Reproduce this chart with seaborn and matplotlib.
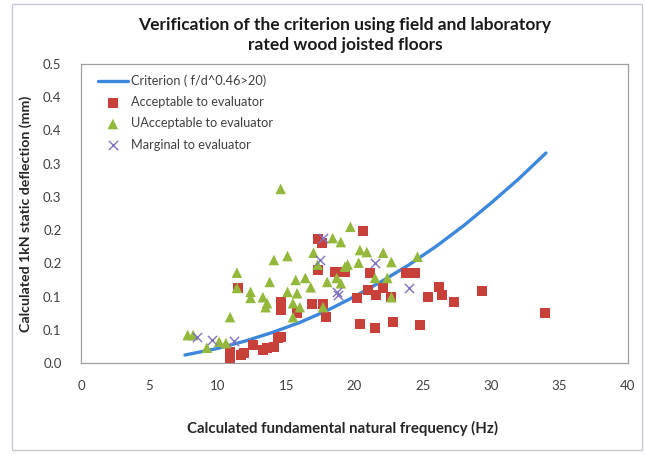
import numpy as np
import pandas as pd
import matplotlib
matplotlib.use("Agg")
import matplotlib.pyplot as plt
from matplotlib.patches import Rectangle
import seaborn as sns

# ---- data ----
crit_f = [7.6, 10, 12, 14, 16, 18, 20, 22, 24, 26, 28, 30, 32, 34]
crit_d = [0.012, 0.022, 0.033, 0.046, 0.061, 0.079, 0.100, 0.123, 0.148, 0.176, 0.207, 0.241, 0.277, 0.316]

acc_f = [11.5, 14.6, 14.6, 10.9, 10.9, 11.9, 12.6, 13.3, 14.1, 14.4, 11.7, 13.6, 15.8,
         20.6, 17.3, 17.6, 17.3, 18.6, 19.3, 21.1, 23.8, 24.4, 21.0, 21.6, 22.1, 22.7,
         20.2, 25.4, 26.2, 26.4, 27.3, 29.3, 33.9, 16.9, 17.7, 17.9, 20.4, 21.5, 22.8,
         24.8, 14.6]
acc_d = [0.113, 0.092, 0.080, 0.017, 0.008, 0.015, 0.027, 0.020, 0.024, 0.038, 0.012, 0.023, 0.075,
         0.199, 0.187, 0.181, 0.140, 0.137, 0.137, 0.136, 0.136, 0.136, 0.110, 0.102, 0.113, 0.099,
         0.098, 0.099, 0.114, 0.102, 0.092, 0.108, 0.075, 0.089, 0.089, 0.069, 0.059, 0.053, 0.062,
         0.057, 0.039]

unacc_f = [14.6, 14.1, 15.1, 11.4, 11.4, 12.4, 12.4, 13.8, 15.7, 16.4, 16.8, 15.1, 15.8,
           13.3, 13.5, 10.9, 7.8, 8.2, 9.2, 10.1, 10.6, 15.5, 19.7, 18.4, 19.0, 17.0,
           20.4, 20.9, 22.1, 22.7, 24.6, 20.3, 17.3, 18.0, 18.7, 19.0, 19.3, 19.5, 21.5,
           22.4, 22.7, 15.5, 16.0, 17.7, 13.6]
unacc_d = [0.262, 0.155, 0.161, 0.136, 0.113, 0.107, 0.098, 0.122, 0.125, 0.128, 0.114, 0.107, 0.105,
           0.099, 0.084, 0.069, 0.042, 0.042, 0.023, 0.032, 0.030, 0.069, 0.205, 0.188, 0.182, 0.166,
           0.170, 0.167, 0.166, 0.152, 0.160, 0.151, 0.148, 0.122, 0.128, 0.120, 0.145, 0.148, 0.128,
           0.128, 0.099, 0.090, 0.084, 0.084, 0.090]

marg_f = [8.5, 9.6, 11.2, 17.5, 18.7, 18.8, 21.5, 24.0, 17.7]
marg_d = [0.039, 0.035, 0.033, 0.155, 0.107, 0.102, 0.151, 0.113, 0.188]

x_ticks = [0, 5, 10, 15, 20, 25, 30, 35, 40]
y_ticks = [0.0, 0.05, 0.10, 0.15, 0.20, 0.25, 0.30, 0.35, 0.40, 0.45]
y_tick_labels = ['0.0', '0.1', '0.1', '0.2', '0.2', '0.3', '0.3', '0.4', '0.4', '0.5']

title = "Verification of the criterion using field and laboratory\nrated wood joisted floors"
xlabel = "Calculated fundamental natural frequency (Hz)"
ylabel = "Calculated 1kN static deflection (mm)"

# ---- plot ----
sns.set_theme(style="white")
plt.rcParams['font.family'] = ['Lato', 'DejaVu Sans']

fig = plt.figure(figsize=(6.45, 4.54), dpi=100)
ax = fig.add_axes([81/645, 91/454, 547/645, 299/454])

crit_df = pd.DataFrame({"f": crit_f, "d": crit_d})
acc_df = pd.DataFrame({"f": acc_f, "d": acc_d})
unacc_df = pd.DataFrame({"f": unacc_f, "d": unacc_d})
marg_df = pd.DataFrame({"f": marg_f, "d": marg_d})

sns.lineplot(data=crit_df, x="f", y="d", ax=ax, color="#3d88dc", linewidth=2.4,
             label="Criterion ( f/d^0.46>20)", zorder=2)
sns.scatterplot(data=acc_df, x="f", y="d", ax=ax, marker="s", s=52, color="#c8403a",
                edgecolor="none", label="Acceptable to evaluator", zorder=3)
sns.scatterplot(data=unacc_df, x="f", y="d", ax=ax, marker="^", s=58, color="#93b83c",
                edgecolor="none", label="UAcceptable to evaluator", zorder=3)
sns.scatterplot(data=marg_df, x="f", y="d", ax=ax, marker="x", s=45, color="#7f72c0",
                linewidth=1.0, label="Marginal to evaluator", zorder=4)

ax.set_xlim(0, 40)
ax.set_ylim(0, 0.45)
ax.set_xticks(x_ticks)
ax.set_xticklabels([str(v) for v in x_ticks])
ax.set_yticks(y_ticks)
ax.set_yticklabels(y_tick_labels)
ax.tick_params(axis='both', which='major', direction='out', length=4, width=0.8,
               color='#9a9a9a', labelsize=9.5, labelcolor='#404040')
ax.tick_params(axis='y', pad=10)
ax.tick_params(axis='x', pad=8)
for sp in ax.spines.values():
    sp.set_visible(True)
    sp.set_color('#a0a0a0')
    sp.set_linewidth(0.9)

ax.set_xlabel(xlabel, fontsize=10.8, fontweight='bold', color='#262626')
ax.xaxis.set_label_coords(0.478, -0.195)
ax.set_ylabel(ylabel, fontsize=10.2, fontweight='bold', color='#262626', labelpad=8)

fig.text(0.535, 0.922, title, ha='center', va='center', fontsize=12.5,
         fontweight='bold', color='#1a1a1a', linespacing=1.3)

leg = ax.legend(loc='upper left', bbox_to_anchor=(0.015, 0.995), frameon=False,
                fontsize=9.2, labelcolor='#404040', handlelength=2.3,
                handletextpad=0.3, labelspacing=0.72, borderaxespad=0.3)

# outer chart border
fig.patches.append(Rectangle((12/645, 4/454), 630/645, 446/454, transform=fig.transFigure,
                             fill=False, edgecolor='#c8c8d8', linewidth=1.0))

fig.savefig("out.png", dpi=100, facecolor='white')
